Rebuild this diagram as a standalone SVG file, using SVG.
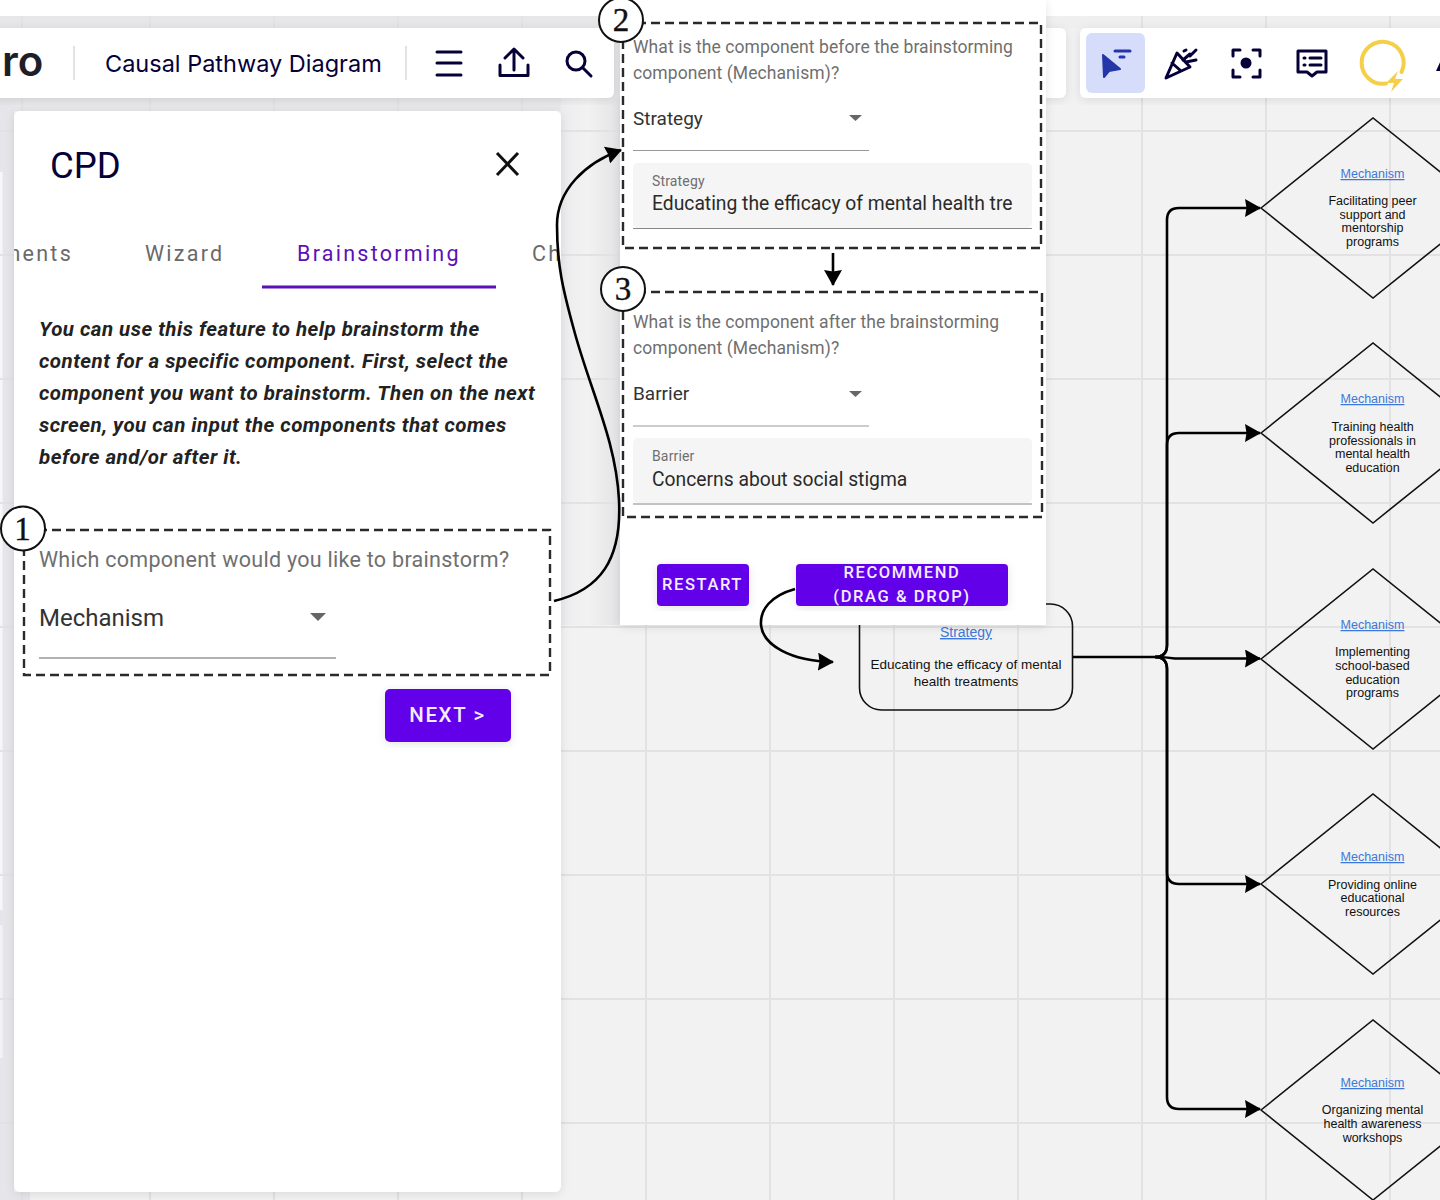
<svg xmlns="http://www.w3.org/2000/svg" width="1440" height="1200" viewBox="0 0 1440 1200">
<defs>
<style>
text{font-family:"Liberation Sans",Arial,sans-serif}
.grid{stroke:#e2e2e4;stroke-width:2;fill:none}
.m{font-family:Inter,"Noto Sans",sans-serif;fill:#050038}
.link{font-size:12.5px;fill:#3d78d8;text-decoration:underline;text-anchor:middle}
.big{font-size:14px}
.nt{font-size:12.5px;fill:#111;text-anchor:middle}
.nb{font-size:13.500px}
.d{fill:none;stroke:#111;stroke-width:1.6}
.dash{fill:none;stroke:#2a2a2a;stroke-width:2.4;stroke-dasharray:9 5}
.c{fill:none;stroke:#000;stroke-width:2.6}
.num{fill:#fff;stroke:#111;stroke-width:2}
.nl{font-family:"Liberation Serif",serif;font-size:33px;fill:#111;text-anchor:middle;stroke:#111;stroke-width:.4}
.q{font-family:Roboto,sans-serif;font-size:17.5px;letter-spacing:.08px;fill:#6f6f6f}
.v{font-family:Roboto,sans-serif;font-size:19px;fill:#333}
.sm{font-family:Roboto,sans-serif;font-size:14px;letter-spacing:.15px;fill:#6f6f6f}
.val{font-family:Roboto,sans-serif;font-size:19.300px;fill:#2a2a2a}
.btn{font-family:Roboto,sans-serif;font-weight:500;fill:#f4ecff;text-anchor:middle;letter-spacing:1.6px}
.ic{fill:none;stroke:#050038;stroke-width:3;stroke-linecap:round;stroke-linejoin:round}
.tab{font-family:Roboto,sans-serif;font-size:21.5px;letter-spacing:2.25px;fill:#6a6a6a}
.it{font-family:Roboto,sans-serif;font-weight:700;font-style:italic;font-size:20.500px;letter-spacing:.48px;fill:#222}
</style>
<marker id="ah" viewBox="0 0 16 18" refX="15" refY="9" markerWidth="16" markerHeight="18" markerUnits="userSpaceOnUse" orient="auto"><path d="M0 0L16 9L0 18L1.500 9Z" fill="#000"/></marker>
<filter id="sh" x="-10%" y="-10%" width="120%" height="120%"><feDropShadow dx="0" dy="2" stdDeviation="5" flood-color="#000" flood-opacity=".1"/></filter>
<linearGradient id="band"><stop offset="0" stop-color="#ececee"/><stop offset=".45" stop-color="#f2f2f2"/><stop offset="1" stop-color="#e3e3e5"/></linearGradient>
<clipPath id="panelclip"><rect x="14" y="111" width="547" height="1081"/></clipPath>
</defs>
<rect width="1440" height="1200" fill="#f2f2f2"/>
<rect width="1440" height="16" fill="#fff"/>
<g id="shade">
<rect x="0" y="16" width="620" height="95" fill="#e7e7ea"/>
<rect x="620" y="16" width="820" height="12" fill="#efeff0"/>
<rect x="0" y="98" width="14" height="1102" fill="#e6e6ea"/>
<rect x="0" y="1192" width="30" height="8" fill="#e6e6ea"/>
<rect x="561" y="98" width="59" height="527" fill="url(#band)"/>
<rect x="0" y="172" width="2.500" height="738" fill="#f7f7f9"/>
<rect x="0" y="925" width="2.500" height="133" fill="#f3f3f6"/>
</g>
<g id="grid" class="grid">
<path d="M22 16V1200M150 16V1200M274 16V1200M398 16V1200M522 16V1200M646 16V1200M770 16V1200M894 16V1200M1018 16V1200M1142 16V1200M1266 16V1200M1390 16V1200"/>
<path d="M0 131H1440M0 255H1440M0 379H1440M0 503H1440M0 627H1440M0 751H1440M0 875H1440M0 999H1440M0 1123H1440"/>
</g>
<g id="toolbar-left">
<rect x="-10" y="28" width="624" height="70" rx="6" fill="#fff" filter="url(#sh)"/>
<text x="2" y="76" font-size="42" font-weight="600" style="font-family:Inter,sans-serif" fill="#1e1e28">ro</text>
<path d="M74 46V80M406 46V80" stroke="#d8d8de" stroke-width="1.5"/>
<text x="105" y="72" class="m" font-size="23.500">Causal Pathway Diagram</text>
<path class="ic" d="M437 52H461M437 63H461M437 75H461"/>
<path class="ic" d="M514 50V70M505 58L514 49L523 58M500 65V75.500H528V65"/>
<circle class="ic" cx="576" cy="61" r="9"/><path class="ic" d="M583 68L591 76"/>
</g>
<rect x="1000" y="28" width="66" height="70" rx="6" fill="#fff" filter="url(#sh)"/>
<g id="toolbar-right">
<rect x="1080" y="28" width="380" height="70" rx="6" fill="#fff" filter="url(#sh)"/>
<rect x="1086" y="33" width="59" height="60" rx="6" fill="#d5ddfb"/>
<path d="M1103 55L1120 69L1109 71L1104 77Z" fill="#2436a8" stroke="#2436a8" stroke-width="2" stroke-linejoin="round"/>
<path d="M1115 51H1130M1120 57H1124" stroke="#2436a8" stroke-width="3" stroke-linecap="round"/>
<path class="ic" d="M1166 78L1177 53L1190 67ZM1172 63L1181 71"/>
<path class="ic" d="M1183 60L1190 54M1186 62L1196 60M1184 51L1186 50M1190 56L1196 50" stroke-width="2.500"/>
<path class="ic" d="M1233 56V50H1240M1253 50H1260V56M1233 70V77H1240M1253 77H1260V70"/>
<circle cx="1246" cy="63" r="5.500" fill="#050038"/>
<path class="ic" d="M1298 51H1326V72H1317L1312 76L1307 72H1298Z"/>
<path class="ic" d="M1304 58H1305M1310 58H1321M1304 65H1305M1310 65H1321"/>
<path d="M1386 83.500A21 21 0 1 1 1401.500 72" fill="none" stroke="#f5cf47" stroke-width="4" stroke-linecap="round"/>
<path d="M1398 71L1386 83H1394L1391 92L1403 79H1395Z" fill="#f5cf47"/>
<path d="M1436 71L1441 60V71Z" fill="#050038"/>
</g>
<g id="connectors">
<path class="c" d="M1073 657H1155Q1167 657 1167 645V220Q1167 208 1179 208H1260" marker-end="url(#ah)"/>
<path class="c" d="M1155 657Q1167 657 1167 645V445Q1167 433 1179 433H1260" marker-end="url(#ah)"/>
<path class="c" d="M1155 657Q1165 657 1175 658.500H1260" marker-end="url(#ah)"/>
<path class="c" d="M1155 657Q1167 657 1167 669V872Q1167 884 1179 884H1260" marker-end="url(#ah)"/>
<path class="c" d="M1155 657Q1167 657 1167 669V1097Q1167 1109 1179 1109H1260" marker-end="url(#ah)"/>
</g>
<g id="strategy-node">
<rect x="859.500" y="604" width="213" height="106" rx="22" fill="none" stroke="#111" stroke-width="1.600"/>
<text class="link big" x="966" y="637">Strategy</text>
<text class="nt nb" x="966" y="669">Educating the efficacy of mental</text>
<text class="nt nb" x="966" y="685.500">health treatments</text>
</g>
<g id="m1"><path class="d" d="M1261 208L1373 118L1485 208L1373 298Z"/><text class="link" x="1372.500" y="178">Mechanism</text><text class="nt" x="1372.500" y="205">Facilitating peer</text><text class="nt" x="1372.500" y="218.500">support and</text><text class="nt" x="1372.500" y="232">mentorship</text><text class="nt" x="1372.500" y="246">programs</text></g>
<g id="m2"><path class="d" d="M1261 433L1373 343L1485 433L1373 523Z"/><text class="link" x="1372.500" y="403">Mechanism</text><text class="nt" x="1372.500" y="431">Training health</text><text class="nt" x="1372.500" y="444.500">professionals in</text><text class="nt" x="1372.500" y="458">mental health</text><text class="nt" x="1372.500" y="471.500">education</text></g>
<g id="m3"><path class="d" d="M1261 659L1373 569L1485 659L1373 749Z"/><text class="link" x="1372.500" y="629">Mechanism</text><text class="nt" x="1372.500" y="656">Implementing</text><text class="nt" x="1372.500" y="670">school-based</text><text class="nt" x="1372.500" y="683.500">education</text><text class="nt" x="1372.500" y="697">programs</text></g>
<g id="m4"><path class="d" d="M1261 884L1373 794L1485 884L1373 974Z"/><text class="link" x="1372.500" y="861">Mechanism</text><text class="nt" x="1372.500" y="888.500">Providing online</text><text class="nt" x="1372.500" y="902">educational</text><text class="nt" x="1372.500" y="916">resources</text></g>
<g id="m5"><path class="d" d="M1261 1110L1373 1020L1485 1110L1373 1200Z"/><text class="link" x="1372.500" y="1087">Mechanism</text><text class="nt" x="1372.500" y="1114">Organizing mental</text><text class="nt" x="1372.500" y="1127.500">health awareness</text><text class="nt" x="1372.500" y="1141.500">workshops</text></g>
<g id="panel-left">
<rect x="14" y="111" width="547" height="1081" rx="6" fill="#fff" filter="url(#sh)"/>
<text x="50" y="178" font-size="36.500" style="font-family:Roboto,sans-serif" fill="#050038">CPD</text>
<path d="M497 153L518 175M518 153L497 175" stroke="#111" stroke-width="3"/>
<g clip-path="url(#panelclip)">
<text class="tab" x="73" y="261" text-anchor="end">nents</text>
<text class="tab" x="145" y="261">Wizard</text>
<text class="tab" x="297" y="261" style="fill:#5a12b8">Brainstorming</text>
<text class="tab" x="532" y="261">Ch</text>
</g>
<rect x="262" y="285.500" width="234" height="3" fill="#5a12b8"/>
<text class="it" x="39" y="336">You can use this feature to help brainstorm the</text>
<text class="it" x="39" y="368">content for a specific component. First, select the</text>
<text class="it" x="39" y="400">component you want to brainstorm. Then on the next</text>
<text class="it" x="39" y="432">screen, you can input the components that comes</text>
<text class="it" x="39" y="464">before and/or after it.</text>
<rect class="dash" x="24" y="530" width="526" height="145"/>
<text x="39" y="567" class="q" style="font-size:21.500px;letter-spacing:.28px">Which component would you like to brainstorm?</text>
<text x="39" y="625.500" class="v" style="font-size:24px">Mechanism</text>
<path d="M310 613H326L318 621Z" fill="#666"/>
<path d="M39 658H336" stroke="#999" stroke-width="1.500"/>
<rect x="385" y="689" width="126" height="53" rx="5" fill="#6200ea" filter="url(#sh)"/>
<text class="btn" x="447.500" y="722" font-size="20.500">NEXT &gt;</text>
</g>
<g id="panel-right">
<rect x="620" y="0" width="426" height="625" fill="#fff" filter="url(#sh)"/>
<text class="q" x="633" y="53">What is the component before the brainstorming</text>
<text class="q" x="633" y="79">component (Mechanism)?</text>
<text class="v" x="633" y="124.500">Strategy</text>
<path d="M849 115H862L855.500 121Z" fill="#666"/>
<path d="M633 150.500H869" stroke="#999" stroke-width="1.200"/>
<rect x="633" y="163" width="399" height="65" rx="5" fill="#f5f5f5"/>
<path d="M633 228.500H1032" stroke="#888" stroke-width="1.200"/>
<text class="sm" x="652" y="186">Strategy</text>
<text class="val" x="652" y="210">Educating the efficacy of mental health tre</text>
<rect class="dash" x="623" y="23" width="418" height="225"/>
<text class="q" x="633" y="328">What is the component after the brainstorming</text>
<text class="q" x="633" y="354">component (Mechanism)?</text>
<text class="v" x="633" y="400">Barrier</text>
<path d="M849 391H862L855.500 397Z" fill="#666"/>
<path d="M633 426H869" stroke="#999" stroke-width="1.200"/>
<rect x="633" y="438" width="399" height="65" rx="5" fill="#f5f5f5"/>
<path d="M633 504H1032" stroke="#888" stroke-width="1.200"/>
<text class="sm" x="652" y="461">Barrier</text>
<text class="val" x="652" y="486">Concerns about social stigma</text>
<rect class="dash" x="623" y="292" width="419" height="225"/>
<rect x="657" y="564" width="92" height="42" rx="4" fill="#6200ea" filter="url(#sh)"/>
<text class="btn" x="702.500" y="590" font-size="16.500">RESTART</text>
<rect x="796" y="564" width="212" height="42" rx="4" fill="#6200ea" filter="url(#sh)"/>
<text class="btn" x="902" y="577.500" font-size="16.500">RECOMMEND</text>
<text class="btn" x="902" y="602" font-size="16.500">(DRAG &amp; DROP)</text>
</g>
<g id="arrows">
<path class="c" d="M554 601C600 590 622 560 619 500C616 440 590 390 574 330C563 290 557 265 557 225C557 190 585 163 621 150" marker-end="url(#ah)"/>
<path class="c" d="M833 253V285" marker-end="url(#ah)"/>
<path class="c" d="M795 589C770 596 760 610 761 625C763 645 790 661 833 662" marker-end="url(#ah)"/>
</g>
<g id="badge-1"><circle class="num" cx="23" cy="528.500" r="22"/><text class="nl" x="22.500" y="540">1</text></g>
<g id="badge-2"><circle class="num" cx="621" cy="20" r="22"/><text class="nl" x="621" y="31">2</text></g>
<g id="badge-3"><circle class="num" cx="623" cy="289" r="22"/><text class="nl" x="623" y="300">3</text></g>
</svg>
